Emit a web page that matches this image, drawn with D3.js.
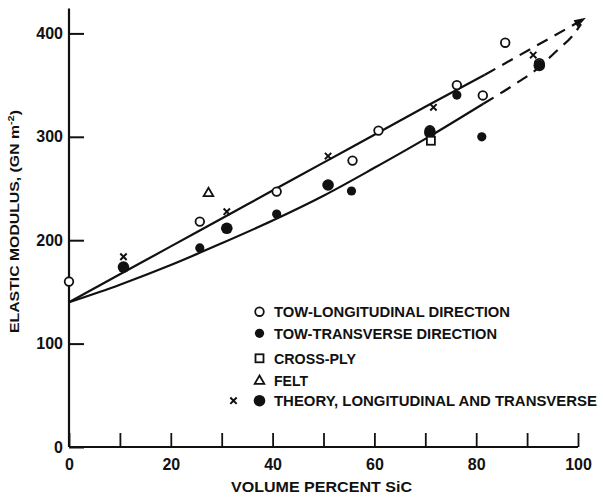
<!DOCTYPE html>
<html>
<head>
<meta charset="utf-8">
<script src="https://cdn.jsdelivr.net/npm/d3@7"></script>
<style>
  body { margin: 0; background: #fff; }
  text { font-family: "Liberation Sans", Arial, sans-serif; font-weight: bold; fill: #111; }
</style>
</head>
<body>
<svg id="chart" width="603" height="497"></svg>
<script>
// ---- values ----
const xTickValues = [0, 10, 20, 30, 40, 50, 60, 70, 80, 90, 100];
const xTickLabels = [0, 20, 40, 60, 80, 100];
const yTickValues = [0, 100, 200, 300, 400];

// measured points
const towLongX = [0, 25.7, 40.8, 55.7, 60.8, 70.9, 76.2, 81.3, 85.7, 92.4];
const towLongY = [160, 218, 247, 277, 306, 306, 350, 340, 391, 371];
const towTransX = [25.7, 40.8, 55.5, 76.2, 81.1];
const towTransY = [192.5, 225.3, 247.6, 340.4, 300];
const crossPlyX = [71.1];
const crossPlyY = [296.2];
const feltX = [27.4];
const feltY = [246.3];

// theory points
const theoryLongX = [10.7, 31, 50.9, 71.6, 91.2];
const theoryLongY = [184, 227.6, 281.4, 328.5, 379.1];
const theoryTransX = [10.7, 31, 50.9, 70.9, 92.4];
const theoryTransY = [174, 211.5, 253.4, 304, 369];

// theory curves
const upperX = [0, 10, 20, 30, 40, 50, 60, 70, 81.7];
const upperY = [140, 167, 194, 221, 248, 275, 302, 329, 360];
const upperDashX = [81.7, 101.4];
const upperDashY = [360, 414.6];
const lowerX = [0, 10, 20, 30, 40, 50, 60, 70, 81.4];
const lowerY = [140, 157, 176, 197, 219, 243, 270, 298, 332];
const lowerDashX = [81.4, 87, 92.5, 96, 98.8, 100.6];
const lowerDashY = [332, 349, 367.8, 384, 397, 409];

const legendLabels = [
  "TOW-LONGITUDINAL DIRECTION",
  "TOW-TRANSVERSE DIRECTION",
  "CROSS-PLY",
  "FELT",
  "THEORY, LONGITUDINAL AND TRANSVERSE"
];

const xTitle = "VOLUME PERCENT SiC";

// ---- drawing ----
const svg = d3.select("#chart");
svg.append("rect").attr("width", 603).attr("height", 497).attr("fill", "#fff");

const x = d3.scaleLinear().domain([0, 100]).range([69, 578]);
const y = d3.scaleLinear().domain([0, 400]).range([447, 33.4]);

const zip = (xs, ys) => xs.map((v, i) => [v, ys[i]]);

// y axis
const yAxis = svg.append("g")
  .attr("transform", "translate(" + x(0) + ",0)")
  .call(d3.axisLeft(y).tickValues(yTickValues).tickSizeInner(-15).tickSizeOuter(0).tickPadding(6));
yAxis.select(".domain").remove();
yAxis.selectAll("line").attr("stroke", "#111").attr("stroke-width", 2);
yAxis.selectAll("text").style("font-size", "16px").attr("fill", "#111");

svg.append("line")
  .attr("x1", x(0)).attr("x2", x(0))
  .attr("y1", y(0)).attr("y2", y(424))
  .attr("stroke", "#111").attr("stroke-width", 2.2);

// x axis
const xAxis = svg.append("g")
  .attr("transform", "translate(0," + y(0) + ")")
  .call(d3.axisBottom(x).tickValues(xTickValues).tickSizeInner(-14).tickSizeOuter(0).tickPadding(12)
    .tickFormat(d => xTickLabels.includes(d) ? d : ""));
xAxis.select(".domain").remove();
xAxis.selectAll("line").attr("stroke", "#111").attr("stroke-width", 1.8);
xAxis.selectAll("text").style("font-size", "16px").attr("fill", "#111");

svg.append("line")
  .attr("x1", x(0)).attr("x2", x(100))
  .attr("y1", y(0)).attr("y2", y(0))
  .attr("stroke", "#111").attr("stroke-width", 2.2);

// axis titles
svg.append("text")
  .attr("x", 231).attr("y", 492)
  .attr("textLength", 181).attr("lengthAdjust", "spacingAndGlyphs")
  .style("font-size", "15px")
  .text(xTitle);

const yTitle = svg.append("text")
  .attr("transform", "translate(19,333) rotate(-90)")
  .attr("textLength", 223).attr("lengthAdjust", "spacingAndGlyphs")
  .style("font-size", "13px");
yTitle.append("tspan").text("ELASTIC MODULUS, (GN m");
yTitle.append("tspan").attr("dy", -5).style("font-size", "9px").text("-2");
yTitle.append("tspan").attr("dy", 5).text(")");

// arrowhead
svg.append("defs").append("marker")
  .attr("id", "arrow")
  .attr("viewBox", "0 0 12 8")
  .attr("refX", 11).attr("refY", 4)
  .attr("markerWidth", 13).attr("markerHeight", 8)
  .attr("markerUnits", "userSpaceOnUse")
  .attr("orient", "auto")
  .append("path").attr("d", "M0,0 L12,4 L0,8 Z").attr("fill", "#111");

// curves
const line = d3.line().x(d => x(d[0])).y(d => y(d[1])).curve(d3.curveMonotoneX);
const curves = svg.append("g").attr("fill", "none").attr("stroke", "#111").attr("stroke-width", 2.2);
curves.append("path").attr("d", line(zip(upperX, upperY)));
curves.append("path").attr("d", line(zip(lowerX, lowerY)));
curves.append("path").attr("d", line(zip(lowerDashX, lowerDashY))).attr("stroke-dasharray", "12,8");
curves.append("path").attr("d", line(zip(upperDashX, upperDashY))).attr("stroke-dasharray", "12,8")
  .attr("marker-end", "url(#arrow)");

// markers
function marker(g, type, cx, cy) {
  if (type === "open") {
    g.append("circle").attr("cx", cx).attr("cy", cy).attr("r", 4.3)
      .attr("fill", "#fff").attr("stroke", "#111").attr("stroke-width", 1.8);
  } else if (type === "ring") {
    g.append("circle").attr("cx", cx).attr("cy", cy).attr("r", 4.6)
      .attr("fill", "none").attr("stroke", "#111").attr("stroke-width", 1.8);
  } else if (type === "filled") {
    g.append("circle").attr("cx", cx).attr("cy", cy).attr("r", 4.6).attr("fill", "#111");
  } else if (type === "big") {
    g.append("circle").attr("cx", cx).attr("cy", cy).attr("r", 5.8).attr("fill", "#111");
  } else if (type === "square") {
    g.append("rect").attr("x", cx - 4).attr("y", cy - 4).attr("width", 8).attr("height", 8)
      .attr("fill", "#fff").attr("stroke", "#111").attr("stroke-width", 1.8);
  } else if (type === "triangle") {
    g.append("path").attr("d", d3.symbol(d3.symbolTriangle, 40)()).attr("transform", "translate(" + cx + "," + (cy + 1) + ")")
      .attr("fill", "#fff").attr("stroke", "#111").attr("stroke-width", 1.8);
  } else if (type === "cross") {
    g.append("path").attr("d", d3.symbol(d3.symbolX, 28)()).attr("transform", "translate(" + cx + "," + cy + ")")
      .attr("fill", "none").attr("stroke", "#111").attr("stroke-width", 2);
  }
}

const pts = svg.append("g");
zip(theoryTransX, theoryTransY).forEach(d => marker(pts, "big", x(d[0]), y(d[1])));
zip(theoryLongX, theoryLongY).forEach(d => marker(pts, "cross", x(d[0]), y(d[1])));
zip(towTransX, towTransY).forEach(d => marker(pts, "filled", x(d[0]), y(d[1])));
zip(crossPlyX, crossPlyY).forEach(d => marker(pts, "square", x(d[0]), y(d[1])));
zip(feltX, feltY).forEach(d => marker(pts, "triangle", x(d[0]), y(d[1])));
zip(towLongX, towLongY).forEach(d => {
  // circles overlapping a theory dot are drawn as rings
  const hit = theoryTransX.some((tx, i) => Math.abs(tx - d[0]) < 1.5 && Math.abs(theoryTransY[i] - d[1]) < 5);
  marker(pts, hit ? "ring" : "open", x(d[0]), y(d[1]));
});

// legend
const legendRows = [311.7, 333.3, 358.3, 380, 400.7];
const legendTypes = [["open"], ["filled"], ["square"], ["triangle"], ["cross", "big"]];
const legendWidths = [236, 223, 82, 34, 323];
const legend = svg.append("g");
legendLabels.forEach((label, i) => {
  const cy = legendRows[i];
  if (legendTypes[i].length === 2) {
    marker(legend, "cross", 233.5, cy);
    marker(legend, "big", 259.5, cy);
  } else {
    marker(legend, legendTypes[i][0], 259.5, cy);
  }
  legend.append("text")
    .attr("x", 274).attr("y", cy + 5.5)
    .attr("textLength", legendWidths[i]).attr("lengthAdjust", "spacingAndGlyphs")
    .style("font-size", "15px")
    .text(label);
});
</script>
</body>
</html>
